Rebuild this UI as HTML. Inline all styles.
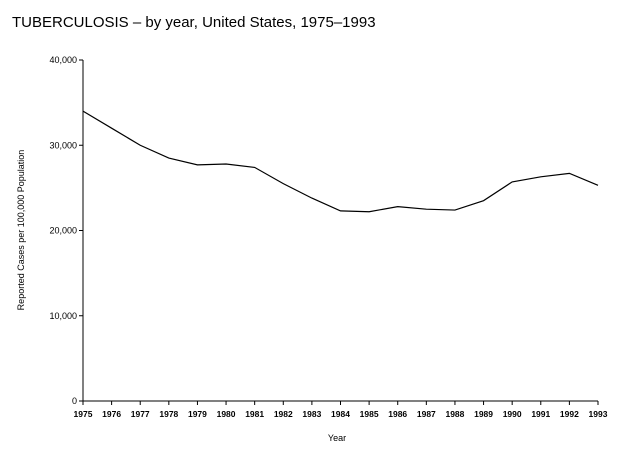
<!DOCTYPE html>
<html><head><meta charset="utf-8"><style>
body{margin:0;background:#fff;}
svg text{font-family:"Liberation Sans",sans-serif;fill:#000;}
</style></head><body>
<svg width="623" height="451">
<text x="12" y="27" font-size="15">TUBERCULOSIS – by year, United States, 1975–1993</text>
<g id="axes"></g>
<text x="337" y="441" font-size="9" text-anchor="middle">Year</text>
<text transform="translate(24,230) rotate(-90)" font-size="9" text-anchor="middle">Reported Cases per 100,000 Population</text>
</svg>
<script>
const years=[1975,1976,1977,1978,1979,1980,1981,1982,1983,1984,1985,1986,1987,1988,1989,1990,1991,1992,1993];
const cases=[34000,32000,30000,28500,27700,27800,27400,25500,23800,22300,22200,22800,22500,22400,23500,25700,26300,26700,25300];
const yTicks=[0,10000,20000,30000,40000];
const yLabels=["0","10,000","20,000","30,000","40,000"];
const ns="http://www.w3.org/2000/svg";
const g=document.getElementById('axes');
const X0=83,X1=598,Y0=401,Y1=60;
const xs=y=>X0+(y-years[0])/(years[years.length-1]-years[0])*(X1-X0);
const ys=v=>Y0-v/40000*(Y0-Y1);
function mk(t,a){const e=document.createElementNS(ns,t);for(const k in a)e.setAttribute(k,a[k]);g.appendChild(e);return e;}
let e=mk('line',{x1:X0,y1:Y1,x2:X0,y2:Y0,stroke:'#000'});


e=mk('line',{x1:X0,y1:Y0,x2:X1,y2:Y0,stroke:'#000'});


yTicks.forEach((v,i)=>{
 mk('line',{x1:X0-4,y1:ys(v),x2:X0,y2:ys(v),stroke:'#000'});
 const t=mk('text',{x:X0-6,y:ys(v)+3,'font-size':'9','text-anchor':'end'});
 t.textContent=yLabels[i];
 
 
});
years.forEach(y=>{
 mk('line',{x1:xs(y),y1:Y0,x2:xs(y),y2:Y0+4,stroke:'#000'});
 const t=mk('text',{x:xs(y),y:Y0+16,'font-size':'8.5','text-anchor':'middle','font-weight':'bold'});
 t.textContent=y;
 
 
});
const p=mk('polyline',{points:years.map((y,i)=>xs(y)+','+ys(cases[i])).join(' '),fill:'none',stroke:'#000','stroke-width':'1.2'});


</script>
</body></html>
